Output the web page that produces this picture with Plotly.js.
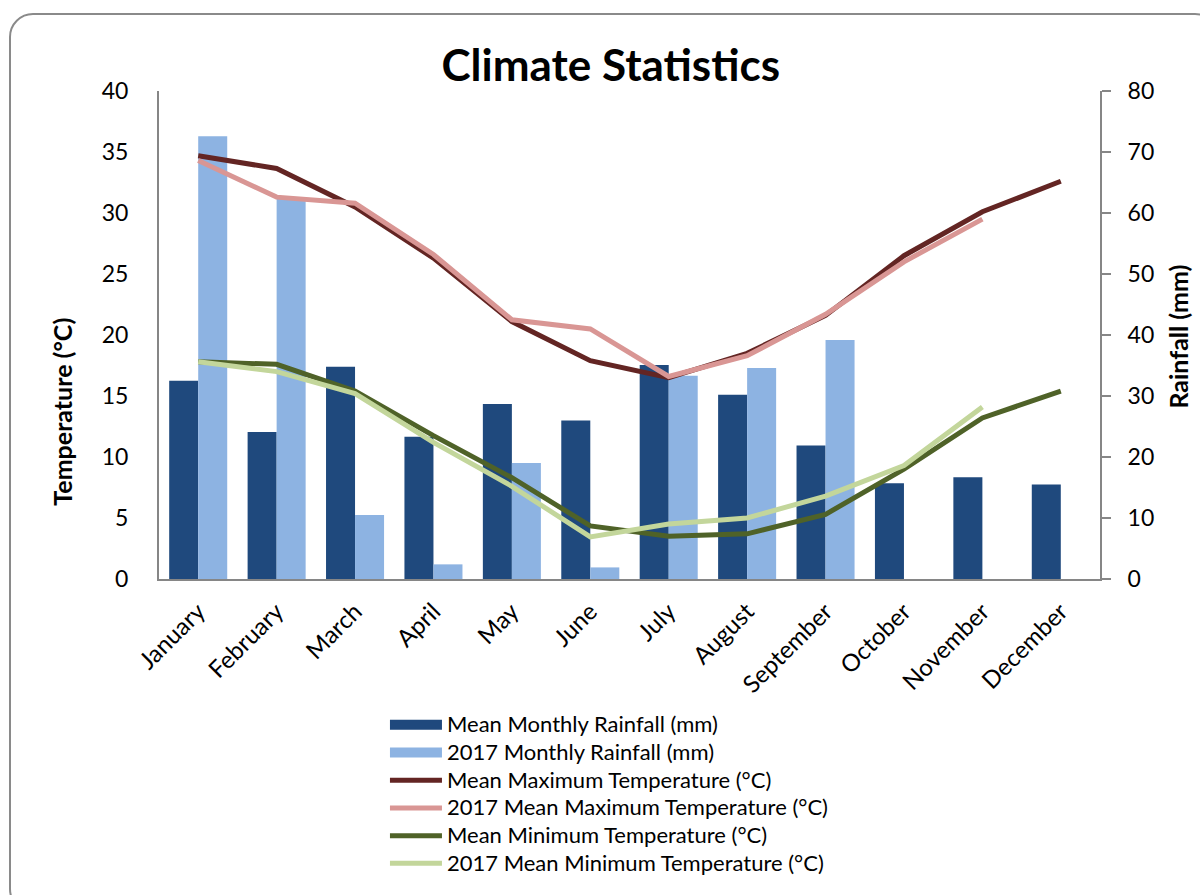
<!DOCTYPE html>
<html>
<head>
<meta charset="utf-8">
<script src="https://cdn.plot.ly/plotly-3.0.1.min.js"></script>
<style>
  html, body { margin: 0; padding: 0; background: #ffffff; }
  #wrap { position: relative; width: 1200px; height: 895px; overflow: hidden; }
  #frame { position: absolute; left: 9px; top: 13px; width: 1210px; height: 900px;
           border: 2px solid #8a8a8a; border-radius: 24px; box-sizing: border-box; }
  #chart { position: absolute; left: 0; top: 0; width: 1200px; height: 895px; }
</style>
</head>
<body>
<div id="wrap">
  <div id="frame"></div>
  <div id="chart"></div>
</div>
<script>
const months = ["January","February","March","April","May","June","July","August","September","October","November","December"];
const seriesNames = ["Mean Monthly Rainfall (mm)", "2017 Monthly Rainfall (mm)",
  "Mean Maximum Temperature (°C)", "2017 Mean Maximum Temperature (°C)",
  "Mean Minimum Temperature (°C)", "2017 Mean Minimum Temperature (°C)"];
const meanRainfall = [32.5, 24.1, 34.8, 23.3, 28.7, 26.0, 35.1, 30.2, 21.9, 15.7, 16.7, 15.5];
const rainfall2017 = [72.6, 62.4, 10.5, 2.4, 19.0, 1.9, 33.3, 34.6, 39.2, null, null, null];
const meanMaxTemp = [34.7, 33.65, 30.5, 26.3, 21.1, 17.9, 16.5, 18.5, 21.6, 26.5, 30.1, 32.6];
const maxTemp2017 = [34.3, 31.3, 30.8, 26.6, 21.25, 20.5, 16.6, 18.3, 21.7, 26.0, 29.5, null];
const meanMinTemp = [17.8, 17.6, 15.4, 11.75, 8.3, 4.35, 3.5, 3.7, 5.3, 9.0, 13.2, 15.4];
const minTemp2017 = [17.8, 17.0, 15.2, 11.2, 7.6, 3.45, 4.5, 5.0, 6.8, 9.3, 14.1, null];

const FONT = "Lato, 'Open Sans', sans-serif";
const C_MEAN_RAIN = '#1F497D', C_RAIN17 = '#8DB3E2';
const legName = s => '<span style="font-size:22px">' + s + '</span>';

const traces = [
  // legend swatches for the bar series (wide rectangles like the original)
  {type: 'scatter', mode: 'lines', name: legName(seriesNames[0]), x: [null], y: [null], yaxis: 'y',
   line: {color: C_MEAN_RAIN, width: 14}, legendgroup: 'mr', hoverinfo: 'skip'},
  {type: 'scatter', mode: 'lines', name: legName(seriesNames[1]), x: [null], y: [null], yaxis: 'y',
   line: {color: C_RAIN17, width: 14}, legendgroup: 'r17', hoverinfo: 'skip'},
  {type: 'bar', name: seriesNames[0], x: months, y: meanRainfall, yaxis: 'y',
   marker: {color: C_MEAN_RAIN}, showlegend: false, legendgroup: 'mr'},
  {type: 'bar', name: seriesNames[1], x: months, y: rainfall2017, yaxis: 'y',
   marker: {color: C_RAIN17}, showlegend: false, legendgroup: 'r17'},
  {type: 'scatter', mode: 'lines', name: legName(seriesNames[2]), x: months, y: meanMaxTemp, yaxis: 'y2',
   line: {color: '#632523', width: 5}},
  {type: 'scatter', mode: 'lines', name: legName(seriesNames[3]), x: months, y: maxTemp2017, yaxis: 'y2',
   line: {color: '#D99694', width: 5}},
  {type: 'scatter', mode: 'lines', name: legName(seriesNames[4]), x: months, y: meanMinTemp, yaxis: 'y2',
   line: {color: '#4F6228', width: 5}},
  {type: 'scatter', mode: 'lines', name: legName(seriesNames[5]), x: months, y: minTemp2017, yaxis: 'y2',
   line: {color: '#C3D69B', width: 5}}
];

const layout = {
  width: 1200, height: 895,
  paper_bgcolor: 'rgba(0,0,0,0)', plot_bgcolor: 'rgba(0,0,0,0)',
  font: {family: FONT, size: 20, color: '#000000'},
  margin: {l: 159, r: 100, t: 91, b: 316, autoexpand: false},
  title: {text: '<b>Climate Statistics</b>', font: {family: FONT, size: 44, color: '#000'},
          x: 0.509, xanchor: 'center', y: 0.927, yanchor: 'middle'},
  barmode: 'group', bargap: 0.26, bargroupgap: 0,
  showlegend: true,
  legend: {xref: 'container', yref: 'container', x: 0.3208, xanchor: 'left', y: 0.2112, yanchor: 'top',
           orientation: 'v', traceorder: 'normal',
           font: {family: FONT, size: 19, color: '#000'}, itemwidth: 52, tracegroupgap: 0,
           bgcolor: 'rgba(0,0,0,0)'},
  xaxis: {type: 'category', tickangle: -45, showline: true, linecolor: '#868686', linewidth: 2,
          ticks: '', showgrid: false, zeroline: false, ticklabelstandoff: 7, automargin: false,
          tickfont: {family: FONT, size: 24, color: '#000'}},
  yaxis: {side: 'right', range: [0, 80], dtick: 10, showline: true, linecolor: '#868686', linewidth: 2,
          ticks: 'outside', ticklen: 9, tickcolor: '#868686', tickwidth: 2, showgrid: false, zeroline: false,
          ticklabelstandoff: 12, automargin: false, tickfont: {family: FONT, size: 23, color: '#000'}},
  yaxis2: {side: 'left', overlaying: 'y', range: [0, 40], dtick: 5, showline: true, linecolor: '#868686', linewidth: 2,
           ticks: '', showgrid: false, zeroline: false, ticklabelstandoff: 24, automargin: false,
           tickfont: {family: FONT, size: 23, color: '#000'}},
  annotations: [
    {text: '<b>Temperature (°C)</b>', xref: 'paper', yref: 'paper', x: -0.103, y: 0.343,
     xanchor: 'center', yanchor: 'middle', textangle: -90, showarrow: false,
     font: {family: FONT, size: 25, color: '#000'}},
    {text: '<b>Rainfall (mm)</b>', xref: 'paper', yref: 'paper', x: 1.083, y: 0.497,
     xanchor: 'center', yanchor: 'middle', textangle: -90, showarrow: false,
     font: {family: FONT, size: 25, color: '#000'}}
  ]
};

Plotly.newPlot('chart', traces, layout, {displayModeBar: false, responsive: false});
</script>
</body>
</html>
